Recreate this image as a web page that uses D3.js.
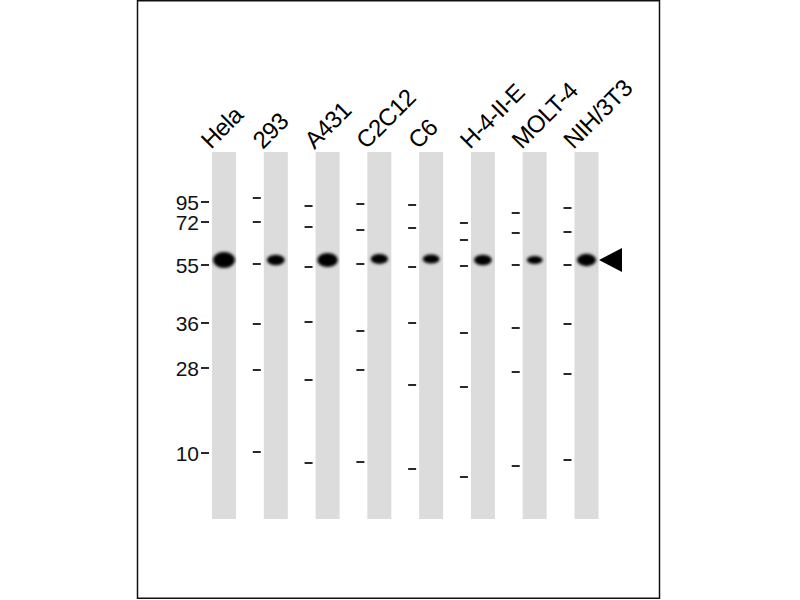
<!DOCTYPE html>
<html><head><meta charset="utf-8">
<script src="https://cdn.jsdelivr.net/npm/d3@7"></script>
<style>html,body{margin:0;padding:0;background:#fff;}svg{display:block;}</style>
</head><body>
<script>
// Lanes (cell lines)
const lanes = ["Hela","293","A431","C2C12","C6","H-4-II-E","MOLT-4","NIH/3T3"];
// Marker ladder (kDa) labels shown beside first lane
const markerLabels = ["95","72","55","36","28","10"];
// Marker positions per lane: migration distance (px from lane top)
const markerPos = [
  [50,70,113,171,216,301],
  [46,70,112,172,218,300],
  [54,75,115,170,228,311],
  [52,78,112,179,218,310],
  [53,76,115,171,233,317],
  [71,88,114,181,235,325],
  [61,81,113,176,220,314],
  [56,80,113,172,222,308]
];
// Band migration distance and relative signal per lane
const bandPos = [108,108,108,107,107,108,108,108];
const bandSignal = [1.0,0.55,0.85,0.5,0.45,0.55,0.35,0.7];

const W=800,H=600;
const svg=d3.select("body").append("svg").attr("width",W).attr("height",H);
const defs=svg.append("defs");
defs.append("filter").attr("id","blur").attr("x","-50%").attr("y","-80%").attr("width","200%").attr("height","260%")
  .append("feGaussianBlur").attr("stdDeviation",1.4);

const x=d3.scalePoint().domain(lanes).range([224,586.5]);
const y=d3.scaleLinear().domain([0,367]).range([152,519]);
const rx=d3.scaleLinear().domain([0.35,1]).range([8,11]);
const ry=d3.scaleLinear().domain([0.35,1]).range([4,8]);
const laneW=24;
const font="'Liberation Sans', Arial, sans-serif";

// frame
svg.append("rect").attr("x",137.5).attr("y",0.75).attr("width",522).attr("height",597.5)
  .attr("fill","none").attr("stroke","#111").attr("stroke-width",1.5);

// lanes
svg.selectAll("rect.lane").data(lanes).join("rect").attr("class","lane")
  .attr("x",d=>x(d)-laneW/2).attr("y",y(0)).attr("width",laneW).attr("height",y(367)-y(0))
  .attr("fill","#dcdcdc");

// lane labels
svg.selectAll("text.lab").data(lanes).join("text").attr("class","lab")
  .attr("transform",d=>`translate(${x(d)-13},150) rotate(-45)`)
  .attr("font-family",font).attr("font-size",24).attr("letter-spacing",-0.6)
  .attr("fill","#000").text(d=>d);

// marker ticks
lanes.forEach((l,i)=>{
  svg.selectAll(null).data(markerPos[i]).join("line")
    .attr("x1",x(l)-23).attr("x2",x(l)-15)
    .attr("y1",d=>y(d)).attr("y2",d=>y(d))
    .attr("stroke","#111").attr("stroke-width",1.8);
});
// marker labels for first lane
svg.selectAll("text.mk").data(markerLabels).join("text").attr("class","mk")
  .attr("x",x(lanes[0])-25).attr("y",(d,i)=>y(markerPos[0][i]))
  .attr("dy","0.36em").attr("text-anchor","end")
  .attr("font-family",font).attr("font-size",21).attr("fill","#111").text(d=>d);

// bands
svg.selectAll("ellipse.band").data(lanes).join("ellipse").attr("class","band")
  .attr("cx",d=>x(d)).attr("cy",(d,i)=>y(bandPos[i]))
  .attr("rx",(d,i)=>rx(bandSignal[i])).attr("ry",(d,i)=>ry(bandSignal[i]))
  .attr("fill","#000").attr("filter","url(#blur)");

// arrow
const lastX=x(lanes[lanes.length-1]), ay=y(bandPos[bandPos.length-1]);
svg.append("path")
  .attr("d",`M${lastX+12.5},${ay} L${lastX+35.5},${ay-12} L${lastX+35.5},${ay+12} Z`)
  .attr("fill","#000");
</script>
</body></html>
